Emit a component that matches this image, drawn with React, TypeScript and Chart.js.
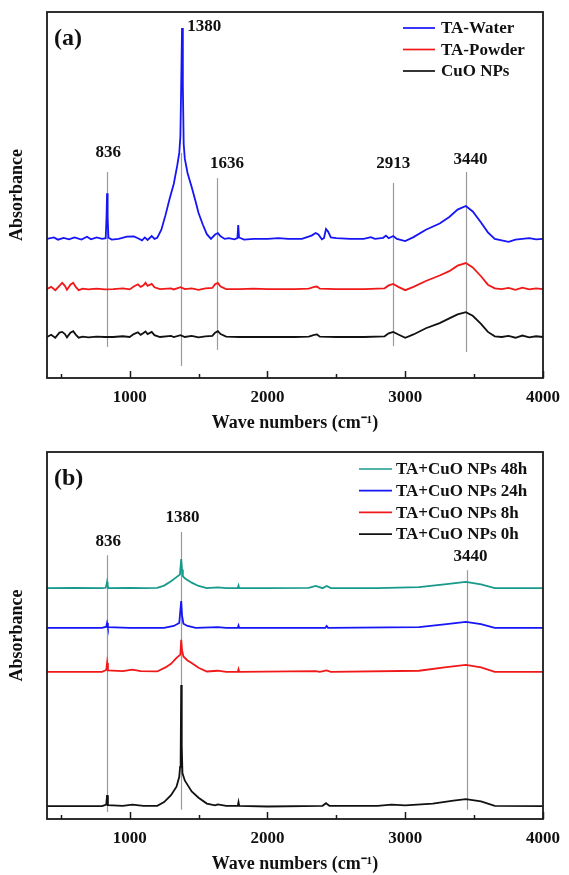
import React, { useEffect, useRef } from 'react';
import { Chart, registerables } from 'chart.js';
Chart.register(...registerables);

const FONT = "'Liberation Serif', 'Times New Roman', serif";

// ---------- Panel (a) data ----------
const waterX = [400,450,480,520,560,600,650,690,720,760,800,826,832,836,840,846,870,920,980,1030,1060,1090,1110,1130,1160,1180,1200,1230,1260,1290,1320,1345,1360,1368,1374,1380,1386,1392,1400,1420,1450,1480,1500,1530,1560,1590,1620,1640,1660,1690,1720,1760,1782,1788,1794,1830,1900,2000,2080,2150,2250,2320,2350,2370,2395,2410,2425,2440,2460,2500,2600,2700,2750,2780,2840,2860,2880,2913,2940,3000,3060,3150,3250,3320,3380,3440,3490,3550,3600,3650,3700,3750,3800,3850,3900,3950,4000];
const waterY = [38.0,38.4,37.8,38.3,37.9,38.4,37.8,38.6,37.9,38.4,38.0,38.2,44,50.5,44,38.3,37.8,38.0,38.6,38.7,38.2,37.6,38.4,37.7,38.8,38.0,38.3,40.5,44.5,49,53,58,61.5,66,80,95.6,80,64,60,56,52.2,48,45.1,42,39.3,38.0,39.2,39.6,38.7,38.0,38.2,37.9,38.2,41.8,38.4,37.8,38.0,38.0,38.2,38.0,38.0,38.9,39.6,39.2,37.9,38.2,40.7,40.0,38.4,38.2,38.0,38.0,38.5,38.0,38.3,38.9,38.2,38.8,38.0,37.4,38.5,40.5,42.2,44,46,47.0,45.5,42.5,39.8,38.0,37.6,37.2,37.8,38.0,38.2,37.9,38.0];

const powderX = [400,430,460,490,510,530,545,570,590,610,630,660,700,760,820,880,950,1000,1030,1060,1080,1100,1115,1130,1160,1180,1220,1300,1320,1370,1400,1450,1500,1550,1600,1620,1640,1660,1700,1800,1900,2000,2100,2200,2300,2340,2360,2380,2500,2700,2850,2880,2913,2950,3000,3060,3150,3250,3320,3380,3440,3490,3550,3600,3650,3700,3750,3800,3850,3900,3950,4000];
const powderY = [24.3,24.9,24.0,25.2,26.0,25.2,24.1,25.5,26.0,24.8,24.0,24.4,24.2,24.4,24.2,24.3,24.5,24.2,25.0,25.6,24.9,25.3,26.0,25.2,25.7,24.8,24.3,24.5,24.2,24.8,24.3,24.5,24.1,24.5,24.6,25.6,26.0,25.0,24.3,24.3,24.4,24.3,24.3,24.3,24.4,24.9,25.0,24.4,24.3,24.3,24.5,25.3,25.7,24.9,24.0,24.9,26.5,28.0,29.2,30.7,31.4,30.2,27.8,25.5,24.5,24.3,24.6,24.1,24.7,24.2,24.5,24.3];

const cuoX = [400,430,460,490,510,530,545,570,590,610,630,660,700,760,820,880,950,1000,1030,1060,1080,1100,1115,1130,1160,1180,1220,1300,1320,1370,1400,1450,1500,1550,1600,1620,1640,1660,1700,1800,2000,2200,2300,2340,2360,2380,2500,2700,2850,2880,2913,2950,3000,3060,3150,3250,3320,3380,3440,3490,3550,3600,3650,3700,3750,3800,3850,3900,3950,4000];
const cuoY = [11.2,11.8,11.0,12.4,12.6,12.0,11.1,12.4,12.8,11.8,11.0,11.3,11.1,11.3,11.2,11.2,11.4,11.2,12.0,12.5,11.8,12.3,12.7,12.0,12.6,11.7,11.2,11.5,11.2,11.7,11.2,11.5,11.1,11.4,11.5,12.4,12.8,12.0,11.3,11.2,11.2,11.2,11.3,11.8,11.9,11.3,11.2,11.2,11.4,12.2,12.6,11.9,11.0,11.9,13.6,15.0,16.3,17.4,18.0,17.0,14.8,12.6,11.4,11.2,11.5,11.0,11.6,11.1,11.4,11.2];

// ---------- Panel (b) data ----------
const h48X = [400,600,800,826,832,836,840,846,1000,1100,1200,1250,1300,1340,1365,1374,1380,1386,1400,1450,1500,1560,1640,1700,1785,1790,1795,2000,2300,2350,2400,2430,2460,2800,3100,3300,3440,3550,3650,4000];
const h48Y = [62.9,63.0,62.9,63.0,63.8,64.6,63.6,62.9,63.0,62.9,63.0,63.6,64.8,65.9,66.6,70.8,68,66.2,65.6,64.4,63.5,62.9,63.1,62.9,63.0,63.6,62.9,62.9,63.0,63.5,62.9,63.5,62.9,62.9,63.2,64.0,64.6,63.9,62.9,62.9];

const h24X = [400,800,830,836,842,1000,1250,1320,1360,1374,1380,1390,1420,1480,1640,1700,1785,1790,1795,2420,2430,2440,3100,3300,3440,3550,3650,4000];
const h24Y = [52.1,52.1,52.4,53.4,52.3,52.1,52.1,52.6,53.4,59.4,55.5,53.2,52.6,52.1,52.3,52.1,52.1,52.7,52.1,52.1,52.6,52.1,52.3,53.1,53.7,53.1,52.1,52.1];

const h8X = [400,800,830,836,842,950,1020,1080,1200,1260,1300,1340,1368,1374,1380,1390,1420,1450,1500,1560,1640,1700,1785,1790,1795,2350,2380,2430,2460,3100,3300,3440,3550,3650,4000];
const h8Y = [40.1,40.1,40.6,42.5,40.5,40.3,40.7,40.3,40.2,41.3,42.3,43.9,44.8,48.8,46,44.3,43.2,42.5,41.2,40.2,40.4,40.1,40.1,40.8,40.1,40.3,40.1,40.5,40.1,40.4,41.4,42.0,41.3,40.1,40.1];

const h0X = [400,800,830,836,842,950,1020,1100,1200,1250,1300,1340,1360,1366,1370,1374,1378,1383,1400,1420,1450,1500,1560,1620,1640,1700,1785,1790,1795,2000,2400,2425,2435,2450,2800,2900,3000,3200,3350,3440,3550,3650,4000];
const h0Y = [3.5,3.5,3.9,6.5,3.8,3.6,3.9,3.6,3.6,4.6,6.5,8.8,11.5,14.2,16,36.5,20,12.5,10.5,9.3,7.5,5.8,4.2,3.7,4.0,3.6,3.6,4.6,3.6,3.4,3.6,4.3,4.0,3.6,3.6,3.9,3.7,4.2,5.0,5.4,4.8,3.6,3.5];

// ---------- Axis ticks & peak annotations ----------
const xMajorTicks = [1000, 2000, 3000, 4000];
const xMinorTicks = [500, 1500, 2500, 3500];

const peaksA_pos = [836, 1370, 1636, 2913, 3440];
const peaksA_text = ['836', '1380', '1636', '2913', '3440'];
const peaksA_top = [56.3, 61.5, 54.6, 53.3, 56.3];
const peaksA_bottom = [8.5, 3.3, 7.7, 8.7, 7.1];
const peaksA_labelX = [845, 1541, 1707, 2913, 3473];
const peaksA_labelY = [61.5, 96.0, 58.5, 58.5, 59.6];

const peaksB_pos = [836, 1373, 3451];
const peaksB_text = ['836', '1380', '3440'];
const peaksB_top = [71.9, 78.2, 67.8];
const peaksB_bottom = [1.9, 2.5, 2.5];
const peaksB_labelX = [845, 1383, 3473];
const peaksB_labelY = [75.5, 82, 71.4];

type PanelCfg = {
  tag: string;
  series: { label: string; color: string; xs: number[]; ys: number[] }[];
  peaks: { pos: number[]; text: string[]; top: number[]; bottom: number[]; lx: number[]; ly: number[] };
  height: number;
  padTop: number;
  xAxisHeight: number;
  titlePadBottom: number;
  legend: { x0: number; x1: number; tx: number; y0: number; dy: number };
};

const panelA: PanelCfg = {
  tag: '(a)',
  series: [
    { label: 'TA-Water', color: '#1515f5', xs: waterX, ys: waterY },
    { label: 'TA-Powder', color: '#f01818', xs: powderX, ys: powderY },
    { label: 'CuO NPs', color: '#111111', xs: cuoX, ys: cuoY },
  ],
  peaks: { pos: peaksA_pos, text: peaksA_text, top: peaksA_top, bottom: peaksA_bottom, lx: peaksA_labelX, ly: peaksA_labelY },
  height: 440,
  padTop: 12,
  xAxisHeight: 62,
  titlePadBottom: 6,
  legend: { x0: 403, x1: 435, tx: 441, y0: 28, dy: 21.5 },
};

const panelB: PanelCfg = {
  tag: '(b)',
  series: [
    { label: 'TA+CuO NPs 48h', color: '#179a8c', xs: h48X, ys: h48Y },
    { label: 'TA+CuO NPs 24h', color: '#1515f5', xs: h24X, ys: h24Y },
    { label: 'TA+CuO NPs 8h', color: '#f01818', xs: h8X, ys: h8Y },
    { label: 'TA+CuO NPs 0h', color: '#111111', xs: h0X, ys: h0Y },
  ],
  peaks: { pos: peaksB_pos, text: peaksB_text, top: peaksB_top, bottom: peaksB_bottom, lx: peaksB_labelX, ly: peaksB_labelY },
  height: 435,
  padTop: 12,
  xAxisHeight: 56,
  titlePadBottom: 0,
  legend: { x0: 359, x1: 392, tx: 396, y0: 29, dy: 21.7 },
};

function makeDecor(cfg: PanelCfg) {
  return {
    id: 'decor',
    beforeDatasetsDraw(chart: any) {
      const { ctx, scales } = chart;
      const x = scales.x, y = scales.y;
      ctx.save();
      ctx.strokeStyle = '#9a9a9a';
      ctx.lineWidth = 1.2;
      cfg.peaks.pos.forEach((p, i) => {
        const px = Math.round(x.getPixelForValue(p)) + 0.5;
        ctx.beginPath();
        ctx.moveTo(px, y.getPixelForValue(cfg.peaks.top[i]));
        ctx.lineTo(px, y.getPixelForValue(cfg.peaks.bottom[i]));
        ctx.stroke();
      });
      ctx.restore();
    },
    afterDraw(chart: any) {
      const { ctx, chartArea: a, scales } = chart;
      const x = scales.x, y = scales.y;
      ctx.save();
      // frame
      ctx.strokeStyle = '#1a1a1a';
      ctx.lineWidth = 1.8;
      ctx.strokeRect(a.left, a.top, a.right - a.left, a.bottom - a.top);
      // inward ticks
      ctx.lineWidth = 1.5;
      xMajorTicks.forEach((v) => {
        const px = Math.round(x.getPixelForValue(v)) + 0.5;
        ctx.beginPath(); ctx.moveTo(px, a.bottom); ctx.lineTo(px, a.bottom - 7); ctx.stroke();
      });
      xMinorTicks.forEach((v) => {
        const px = Math.round(x.getPixelForValue(v)) + 0.5;
        ctx.beginPath(); ctx.moveTo(px, a.bottom); ctx.lineTo(px, a.bottom - 4); ctx.stroke();
      });
      // peak labels
      ctx.fillStyle = '#111';
      ctx.font = `bold 17px ${FONT}`;
      ctx.textBaseline = 'middle';
      ctx.textAlign = 'center';
      cfg.peaks.text.forEach((t, i) => {
        ctx.fillText(t, x.getPixelForValue(cfg.peaks.lx[i]), y.getPixelForValue(cfg.peaks.ly[i]));
      });
      // panel tag
      ctx.textAlign = 'left';
      ctx.font = `bold 24px ${FONT}`;
      ctx.fillText(cfg.tag, a.left + 7, a.top + 27);
      // legend
      const L = cfg.legend;
      ctx.font = `bold 17px ${FONT}`;
      chart.data.datasets.forEach((ds: any, i: number) => {
        const yy = L.y0 + i * L.dy;
        ctx.strokeStyle = ds.borderColor;
        ctx.lineWidth = 1.7;
        ctx.beginPath(); ctx.moveTo(L.x0, yy); ctx.lineTo(L.x1, yy); ctx.stroke();
        ctx.fillStyle = '#111';
        ctx.fillText(ds.label, L.tx, yy + 1);
      });
      ctx.restore();
    },
  };
}

function Panel({ cfg }: { cfg: PanelCfg }) {
  const ref = useRef<HTMLCanvasElement>(null);
  useEffect(() => {
    const chart = new Chart(ref.current as HTMLCanvasElement, {
      type: 'line',
      data: {
        datasets: cfg.series.map((s) => ({
          label: s.label,
          data: s.xs.map((xv, i) => ({ x: xv, y: s.ys[i] })),
          borderColor: s.color,
          backgroundColor: s.color,
          borderWidth: 1.8,
          pointRadius: 0,
          tension: 0,
          fill: false,
        })),
      },
      options: {
        animation: false,
        responsive: false,
        devicePixelRatio: 1,
        layout: { padding: { top: cfg.padTop, right: 21, left: 0, bottom: 0 } },
        plugins: { legend: { display: false }, tooltip: { enabled: false } },
        scales: {
          x: {
            type: 'linear',
            min: 400,
            max: 4000,
            grid: { display: false, drawTicks: false },
            border: { display: false },
            afterBuildTicks: (s: any) => { s.ticks = xMajorTicks.map((v) => ({ value: v })); },
            afterFit: (s: any) => { s.height = cfg.xAxisHeight; },
            ticks: {
              autoSkip: false,
              maxRotation: 0,
              padding: 9,
              color: '#111',
              font: { family: FONT, size: 17, weight: 'bold' },
              callback: (v: any) => String(v),
            },
            title: {
              display: true,
              text: 'Wave numbers (cm\u207B\u00B9)',
              color: '#111',
              font: { family: FONT, size: 18, weight: 'bold' },
              padding: { top: 0, bottom: cfg.titlePadBottom },
            },
          },
          y: {
            type: 'linear',
            min: 0,
            max: 100,
            grid: { display: false, drawTicks: false },
            border: { display: false },
            ticks: { display: false },
            afterFit: (s: any) => { s.width = 47; },
            title: {
              display: true,
              text: 'Absorbance',
              color: '#111',
              font: { family: FONT, size: 18, weight: 'bold' },
              padding: { top: 7, bottom: 0 },
            },
          },
        },
      } as any,
      plugins: [makeDecor(cfg)],
    });
    return () => chart.destroy();
  }, [cfg]);
  return <canvas ref={ref} width={569} height={cfg.height} style={{ display: 'block', width: 569, height: cfg.height }} />;
}

export default function App() {
  return (
    <div style={{ position: 'absolute', left: 0, top: 0, width: 569, height: 875, background: '#fff' }}>
      <Panel cfg={panelA} />
      <Panel cfg={panelB} />
    </div>
  );
}
